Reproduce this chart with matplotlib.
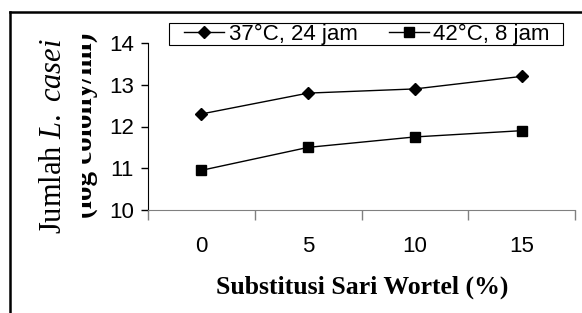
import matplotlib
matplotlib.use('Agg')
import matplotlib.pyplot as plt
from matplotlib.lines import Line2D
from matplotlib.patches import Rectangle
from matplotlib.transforms import Bbox, TransformedBbox

plt.rcParams['mathtext.fontset'] = 'custom'
plt.rcParams['mathtext.rm'] = 'Liberation Serif'
plt.rcParams['mathtext.it'] = 'Liberation Serif:italic'

# data
categories = ['0', '5', '10', '15']
series_37 = [12.3, 12.8, 12.9, 13.2]
series_42 = [10.95, 11.5, 11.75, 11.9]
label_37 = '37°C, 24 jam'
label_42 = '42°C, 8 jam'

fig = plt.figure(figsize=(5.82, 3.13), dpi=100)
W, H = 582, 313
ax = fig.add_axes([148 / W, 1 - 210 / H, (575 - 148) / W, (210 - 43) / H])

x = list(range(len(categories)))
ax.plot(x, series_37, color='black', lw=1.0, marker='D', ms=6,
        label=label_37)
ax.plot(x, series_42, color='black', lw=1.0, marker='s', ms=7,
        label=label_42)

ax.set_xlim(-0.5, len(categories) - 0.5)
ax.set_ylim(10, 14)
ax.set_yticks([10, 11, 12, 13, 14])

# category axis: ticks on boundaries, labels centred
ax.set_xticks([i - 0.5 for i in range(len(categories) + 1)])
ax.set_xticklabels([])
ax.set_xticks(x, minor=True)
ax.set_xticklabels(categories, minor=True)
ax.tick_params(axis='x', which='major', direction='out', length=7,
               color='#808080', width=1)
ax.tick_params(axis='x', which='minor', length=0, pad=19, labelsize=16)
ax.tick_params(axis='y', direction='out', length=5, width=1, pad=5,
               labelsize=16)
for lab in ax.get_xticklabels(minor=True) + ax.get_yticklabels():
    lab.set_family('Liberation Sans')

for s in ['top', 'right']:
    ax.spines[s].set_visible(False)
ax.spines['bottom'].set_color('#808080')
ax.spines['left'].set_color('black')

# legend box drawn separately (Excel style: wide side padding, tight height)
ax.add_patch(Rectangle((169 / W, 1 - 45 / H), (563 - 169) / W, 22 / H,
                       transform=fig.transFigure, facecolor='white',
                       edgecolor='black', lw=0.8, zorder=3, clip_on=False))
leg = ax.legend(loc='center', bbox_to_anchor=(367 / W, 1 - 34 / H),
                bbox_transform=fig.transFigure, ncol=2, frameon=False,
                prop={'family': 'Liberation Sans', 'size': 16},
                handlelength=1.8, handletextpad=0.2, columnspacing=1.4,
                borderpad=0.1, borderaxespad=0)
leg.set_zorder(6)

fig.text(362 / W, 1 - 287 / H, 'Substitusi Sari Wortel (%)',
         family='Liberation Serif', weight='bold', size=18.5,
         ha='center', va='center')

fig.text(61 / W, 1 - 136 / H, r'Jumlah $\mathit{L.\ casei}$',
         family='Liberation Serif', size=22, rotation=90,
         rotation_mode='anchor', ha='center', va='baseline')
t2 = fig.text(91.5 / W, 1 - 125 / H, '(log colony/ml)',
              family='Liberation Serif', weight='bold', size=21,
              rotation=90, rotation_mode='anchor', ha='center',
              va='baseline')
t2.set_clip_box(TransformedBbox(Bbox([[81.5 / W, 0], [1, 1]]),
                                fig.transFigure))
t2.set_clip_on(True)

# frame lines of the original box
fig.add_artist(Line2D([9.5 / W, 1], [1 - 12 / H, 1 - 12 / H],
                      color='black', lw=1.8, transform=fig.transFigure))
fig.add_artist(Line2D([10.5 / W, 10.5 / W], [0, 1 - 12 / H],
                      color='black', lw=1.8, transform=fig.transFigure))

fig.savefig('out.png', dpi=100)
